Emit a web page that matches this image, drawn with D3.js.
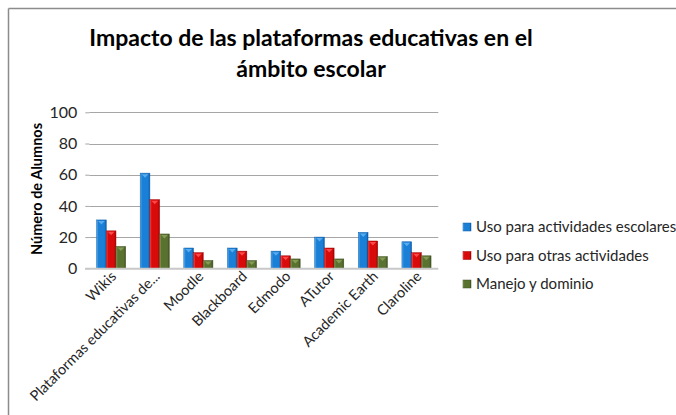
<!DOCTYPE html>
<html><head><meta charset="utf-8">
<script src="https://cdn.jsdelivr.net/npm/d3@7/dist/d3.min.js"></script>
<style>body{margin:0;background:#fff}svg{display:block}</style>
</head><body>
<script>
const categories = ["Wikis","Plataformas educativas de...","Moodle","Blackboard","Edmodo","ATutor","Academic Earth","Claroline"];
const seriesNames = ["Uso para actividades escolares","Uso para otras actividades","Manejo y dominio"];
const usoEscolar = [31, 61, 13, 13, 11, 20, 23, 17];
const usoOtras = [24, 44, 10, 11, 8, 13, 17.5, 10];
const manejo = [14, 22, 5, 5, 6, 6, 7.5, 8];
const yTicks = [0, 20, 40, 60, 80, 100];
const titleLines = ["Impacto de las plataformas educativas en el", "ámbito escolar"];
const yTitle = "Número de Alumnos";

const series = [usoEscolar, usoOtras, manejo];
const colors = [
  {dark:"#0b5ca8", mid:"#1a7fd6", light:"#5fb0f0"},
  {dark:"#a00000", mid:"#d80a0a", light:"#ff5050"},
  {dark:"#3e5020", mid:"#5a7230", light:"#8aa05a"}
];
const font = "Lato, 'Open Sans', sans-serif";

const W = 676, H = 415;
const svg = d3.select("body").append("svg").attr("width", W).attr("height", H);
const defs = svg.append("defs");
colors.forEach((c, i) => {
  const g = defs.append("linearGradient").attr("id", "g" + i).attr("x1", "0").attr("x2", "1").attr("y1", "0").attr("y2", "0");
  g.append("stop").attr("offset", "0").attr("stop-color", c.light);
  g.append("stop").attr("offset", "0.2").attr("stop-color", c.mid);
  g.append("stop").attr("offset", "0.8").attr("stop-color", c.mid);
  g.append("stop").attr("offset", "1").attr("stop-color", c.dark);
});

// chart frame (partially visible)
svg.append("line").attr("x1", 8.5).attr("x2", W).attr("y1", 8.5).attr("y2", 8.5).attr("stroke", "#8c8c8c").attr("stroke-width", 1.5);
svg.append("line").attr("x1", 8.5).attr("x2", 8.5).attr("y1", 8.5).attr("y2", H).attr("stroke", "#8c8c8c").attr("stroke-width", 1.5);

const x0 = d3.scaleBand().domain(categories).range([89.3, 438.3]).paddingInner(0.333).paddingOuter(0.1665);
const x1 = d3.scaleBand().domain(d3.range(series.length)).range([0, x0.bandwidth()]);
const y = d3.scaleLinear().domain([0, 100]).range([268.3, 112.3]);

// gridlines
svg.append("g").selectAll("line").data(yTicks.filter(d => d > 0)).join("line")
  .attr("x1", 89.3).attr("x2", 438.3).attr("y1", d => Math.round(y(d)) + 0.5).attr("y2", d => Math.round(y(d)) + 0.5)
  .attr("stroke", "#a6a6a6").attr("stroke-width", 1);

// y axis
const yAxis = svg.append("g").attr("transform", "translate(89.3,0)")
  .call(d3.axisLeft(y).tickValues(yTicks).tickSize(4).tickPadding(8));
yAxis.select(".domain").remove();
yAxis.selectAll(".tick line").attr("stroke", "#a6a6a6");
yAxis.selectAll("text").attr("font-family", font).attr("font-size", 16).attr("fill", "#262626");

// bars
const groups = svg.append("g").selectAll("g").data(categories).join("g")
  .attr("transform", d => `translate(${x0(d)},0)`);
groups.each(function(cat, ci) {
  const g = d3.select(this);
  series.forEach((s, si) => {
    const v = s[ci];
    const bx = x1(si), bw = x1.bandwidth();
    g.append("rect").attr("x", bx).attr("y", y(v)).attr("width", bw).attr("height", y(0) - y(v))
      .attr("fill", `url(#g${si})`).attr("stroke", colors[si].dark).attr("stroke-width", 0.5);
    const ty = y(v);
    g.append("path").attr("d", `M${bx + 1.5},${ty + 1}L${bx + bw - 1.5},${ty + 1}L${bx + bw / 2},${ty + 4.5}Z`)
      .attr("fill", colors[si].light).attr("opacity", 0.9);
  });
});

// x axis baseline
svg.append("line").attr("x1", 85).attr("x2", 438.3).attr("y1", y(0) + 0.5).attr("y2", y(0) + 0.5)
  .attr("stroke", "#c8c8c8").attr("stroke-width", 2);

// x labels
svg.append("g").selectAll("text").data(categories).join("text")
  .attr("transform", d => `translate(${x0(d) + x0.bandwidth() / 2 + 6},${y(0) + 9}) rotate(-45)`)
  .attr("text-anchor", "end").attr("font-family", font).attr("font-size", 14.5).attr("fill", "#262626")
  .text(d => d);

// y title
svg.append("text").attr("transform", "translate(42,189) rotate(-90)").attr("text-anchor", "middle")
  .attr("font-family", font).attr("font-weight", "bold").attr("font-size", 14.5).attr("fill", "#000").text(yTitle);

// title
svg.append("g").selectAll("text").data(titleLines).join("text")
  .attr("x", 311).attr("y", (d, i) => 46 + i * 31).attr("text-anchor", "middle")
  .attr("font-family", font).attr("font-weight", "bold").attr("font-size", 23).attr("fill", "#000").text(d => d);

// legend
const leg = svg.append("g").selectAll("g").data(seriesNames).join("g")
  .attr("transform", (d, i) => `translate(463,${227 + i * 28.5})`);
leg.append("rect").attr("x", 0).attr("y", -4).attr("width", 8).attr("height", 8).attr("fill", (d, i) => `url(#g${i})`)
  .attr("stroke", (d, i) => colors[i].dark).attr("stroke-width", 0.5);
leg.append("text").attr("x", 13).attr("y", 5).attr("font-family", font).attr("font-size", 15).attr("fill", "#262626").text(d => d);
</script>
</body></html>
